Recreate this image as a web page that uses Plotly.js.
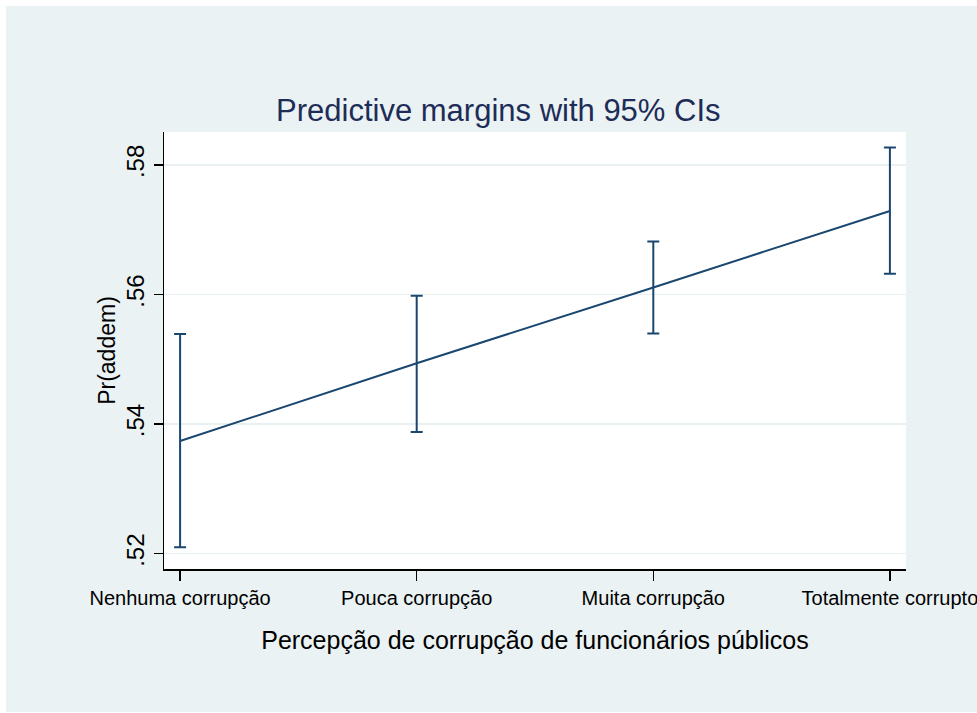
<!DOCTYPE html>
<html>
<head>
<meta charset="utf-8">
<script src="https://cdn.plot.ly/plotly-3.0.1.min.js"></script>
<style>
  html, body { margin: 0; padding: 0; background: #ffffff; width: 977px; height: 713px; overflow: hidden; }
  #chart { position: absolute; left: 6px; top: 6px; width: 971px; height: 706px; }
</style>
</head>
<body>
<div id="chart"></div>
<script>
const categories = ['Nenhuma corrupção', 'Pouca corrupção', 'Muita corrupção', 'Totalmente corrupto'];
const margins = [0.5374, 0.5494, 0.5611, 0.5729];
const lowerCI = [0.5210, 0.5388, 0.5540, 0.5632];
const upperCI = [0.5539, 0.5598, 0.5682, 0.5827];
const yTickVals = [0.52, 0.54, 0.56, 0.58];
const yTickText = ['.52', '.54', '.56', '.58'];

const navy = '#1a476f';
const font = 'Liberation Sans, Arial, sans-serif';

const trace = {
  type: 'scatter',
  mode: 'lines',
  x: categories,
  y: margins,
  line: { color: navy, width: 2 },
  error_y: {
    type: 'data',
    symmetric: false,
    array: upperCI.map((u, i) => u - margins[i]),
    arrayminus: margins.map((m, i) => m - lowerCI[i]),
    color: navy,
    thickness: 2,
    width: 6
  },
  hoverinfo: 'x+y'
};

const layout = {
  width: 971,
  height: 706,
  margin: { l: 158, r: 71, t: 126, b: 143, pad: 0 },
  paper_bgcolor: '#eaf2f3',
  plot_bgcolor: '#ffffff',
  showlegend: false,
  font: { family: font, color: '#000000' },
  title: {
    text: 'Predictive margins with 95% CIs',
    font: { family: font, size: 31, color: '#1e2c58' },
    xref: 'container', yref: 'container',
    x: 0.507, y: 0.853, xanchor: 'center', yanchor: 'middle'
  },
  xaxis: {
    type: 'category',
    range: [-0.068, 3.068],
    showgrid: false,
    zeroline: false,
    showline: true,
    linecolor: '#000000',
    linewidth: 1.5,
    ticks: 'outside',
    ticklen: 10,
    tickwidth: 1.5,
    tickcolor: '#000000',
    tickfont: { family: font, size: 20, color: '#000000' },
    title: {
      text: 'Percepção de corrupção de funcionários públicos',
      font: { family: font, size: 25, color: '#000000' },
      standoff: 24
    },
    automargin: false
  },
  yaxis: {
    range: [0.51764, 0.58509],
    tickvals: yTickVals,
    ticktext: yTickText,
    tickangle: -90,
    showgrid: true,
    gridcolor: '#e8f0f2',
    gridwidth: 1.5,
    zeroline: false,
    showline: true,
    linecolor: '#000000',
    linewidth: 1.5,
    ticks: 'outside',
    ticklen: 9,
    tickwidth: 1.5,
    tickcolor: '#000000',
    tickfont: { family: font, size: 24, color: '#000000' },
    title: {
      text: 'Pr(addem)',
      font: { family: font, size: 23, color: '#000000' },
      standoff: 0
    },
    automargin: false
  }
};

Plotly.newPlot('chart', [trace], layout, { displayModeBar: false, staticPlot: true });
</script>
</body>
</html>
